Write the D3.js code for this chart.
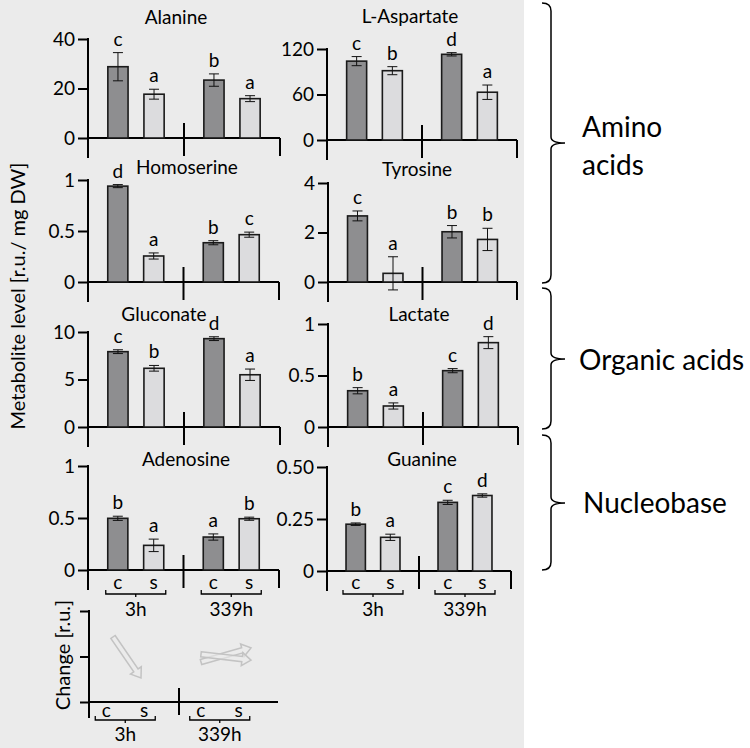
<!DOCTYPE html>
<html>
<head>
<meta charset="utf-8">
<script src="https://cdn.jsdelivr.net/npm/d3@7/dist/d3.min.js"></script>
<style>
  body { margin: 0; background: #fff; }
  svg { display: block; }
  text { font-family: Lato, "Open Sans", sans-serif; fill: #000; }
</style>
</head>
<body>
<div id="chart"></div>
<script>
// ---- data ----
const metabolites = ["Alanine", "L-Aspartate", "Homoserine", "Tyrosine", "Gluconate", "Lactate", "Adenosine", "Guanine"];
const groups = ["3h", "339h"];
const treatments = ["c", "s"];

// order: 3h c, 3h s, 339h c, 339h s
const means = [
  [28.8, 17.7, 23.4, 15.9],
  [104, 91.4, 113, 63],
  [0.94, 0.255, 0.385, 0.464],
  [2.67, 0.35, 2.03, 1.72],
  [7.93, 6.18, 9.3, 5.5],
  [0.352, 0.204, 0.547, 0.819],
  [0.497, 0.237, 0.317, 0.493],
  [0.225, 0.162, 0.33, 0.363]
];
const errors = [
  [5.7, 2.0, 2.5, 1.2],
  [6, 5.3, 2.2, 9.5],
  [0.015, 0.03, 0.02, 0.025],
  [0.2, 0.67, 0.25, 0.45],
  [0.2, 0.3, 0.2, 0.6],
  [0.03, 0.03, 0.02, 0.058],
  [0.02, 0.06, 0.03, 0.015],
  [0.006, 0.015, 0.01, 0.008]
];
const letters = [
  ["c", "a", "b", "a"],
  ["c", "b", "d", "a"],
  ["d", "a", "b", "c"],
  ["c", "a", "b", "b"],
  ["c", "b", "d", "a"],
  ["b", "a", "c", "d"],
  ["b", "a", "a", "b"],
  ["b", "a", "c", "d"]
];
const yMax = [40, 120, 1, 4, 10, 1, 1, 0.5];
const yTicks = [
  [0, 20, 40], [0, 60, 120], [0, 0.5, 1], [0, 2, 4],
  [0, 5, 10], [0, 0.5, 1], [0, 0.5, 1], [0, 0.25, 0.5]
];
const yTickLabels = [
  ["0", "20", "40"], ["0", "60", "120"], ["0", "0.5", "1"], ["0", "2", "4"],
  ["0", "5", "10"], ["0", "0.5", "1"], ["0", "0.5", "1"], ["0", "0.25", "0.50"]
];

// change panel (qualitative arrows)
const changeGroup = ["3h", "339h", "339h"];
const changeFrom = [1.43, 0.88, 1.05];
const changeTo = [0.53, 1.19, 0.92];
const changeTicks = [0, 1, 2];

const classNames = [["Amino", "acids"], ["Organic acids"], ["Nucleobase"]];

// ---- layout ----
const panels = [
  { ax: 88, end: 280, base: 138, top: 39, tx: 176, ty: 24 },
  { ax: 327, end: 517, base: 140, top: 49, tx: 410, ty: 23 },
  { ax: 88, end: 279, base: 282, top: 180, tx: 187, ty: 174 },
  { ax: 328, end: 517, base: 282, top: 183, tx: 417, ty: 176 },
  { ax: 88, end: 280, base: 427, top: 332, tx: 164, ty: 321 },
  { ax: 328, end: 518, base: 427, top: 324, tx: 419, ty: 321 },
  { ax: 88, end: 279, base: 570, top: 466, tx: 186, ty: 466 },
  { ax: 327, end: 511, base: 571, top: 467, tx: 422, ty: 466 }
];
const bracePos = [[3, 143, 283], [288, 359, 429], [435, 503, 570]];
const braceText = [[582, 137], [579, 370], [583, 513]];

const W = 750, H = 748;
const darkFill = "#8e8e90", lightFill = "#dcdcde";
const fs = "19px";

const svg = d3.select("#chart").append("svg")
  .attr("width", W)
  .attr("height", H);

svg.append("rect")
  .attr("width", 524)
  .attr("height", H)
  .attr("fill", "#ebebeb");

function groupLabels(g, x0, x1, yLetters, yBracket, yGroup) {
  groups.forEach(grp => {
    treatments.forEach(t => {
      g.append("text")
        .attr("x", x0(grp) + x1(t) + x1.bandwidth() / 2)
        .attr("y", yLetters)
        .attr("text-anchor", "middle")
        .style("font-size", fs)
        .text(t);
    });
    const mid = x0(grp) + x0.bandwidth() / 2;
    g.append("path")
      .attr("d", `M${mid - 30},${yBracket - 4}L${mid - 30},${yBracket}L${mid + 30},${yBracket}L${mid + 30},${yBracket - 4}M${mid},${yBracket}L${mid},${yBracket + 3}`)
      .attr("fill", "none")
      .attr("stroke", "#000")
      .attr("stroke-width", 1.3);
    g.append("text")
      .attr("x", mid)
      .attr("y", yGroup)
      .attr("text-anchor", "middle")
      .style("font-size", fs)
      .text(grp);
  });
}

metabolites.forEach((name, i) => {
  const p = panels[i];
  const g = svg.append("g");

  const x0 = d3.scaleBand().domain(groups).range([p.ax, p.end]);
  const x1 = d3.scaleBand().domain(treatments).range([0, x0.bandwidth()])
    .paddingInner(0.44).paddingOuter(0.55);
  const y = d3.scaleLinear().domain([0, yMax[i]]).range([p.base, p.top]);

  const bars = [];
  groups.forEach((grp, gi) => treatments.forEach((t, ti) => {
    const k = gi * 2 + ti;
    bars.push({ grp, t, v: means[i][k], e: errors[i][k], l: letters[i][k] });
  }));

  // y axis ticks + labels
  const yAxis = d3.axisLeft(y)
    .tickValues(yTicks[i])
    .tickFormat((d, k) => yTickLabels[i][k])
    .tickSize(10)
    .tickSizeOuter(0)
    .tickPadding(3);
  const ya = g.append("g")
    .attr("transform", `translate(${p.ax},0)`)
    .call(yAxis);
  ya.select(".domain").remove();
  ya.selectAll("line").attr("stroke", "#000").attr("stroke-width", 2);
  ya.selectAll("text").style("font-size", fs).style("font-family", "Lato, 'Open Sans', sans-serif");

  // axis lines
  g.append("line").attr("x1", p.ax).attr("x2", p.ax).attr("y1", p.top - 1).attr("y2", p.base + 20)
    .attr("stroke", "#000").attr("stroke-width", 2);
  g.append("line").attr("x1", p.ax).attr("x2", p.end).attr("y1", p.base).attr("y2", p.base)
    .attr("stroke", "#000").attr("stroke-width", 2);
  g.append("line").attr("x1", p.end).attr("x2", p.end).attr("y1", p.base).attr("y2", p.base + 18)
    .attr("stroke", "#000").attr("stroke-width", 2);
  const sep = x0("339h");
  g.append("line").attr("x1", sep).attr("x2", sep).attr("y1", p.base - 15).attr("y2", p.base + 18)
    .attr("stroke", "#000").attr("stroke-width", 2);

  // bars
  g.selectAll(".bar")
    .data(bars)
    .enter()
    .append("rect")
    .attr("class", "bar")
    .attr("x", d => x0(d.grp) + x1(d.t))
    .attr("y", d => y(d.v))
    .attr("width", x1.bandwidth())
    .attr("height", d => p.base - y(d.v))
    .attr("fill", d => d.t === "c" ? darkFill : lightFill)
    .attr("stroke", "#1a1a1a")
    .attr("stroke-width", 1.6);

  // error bars
  bars.forEach(d => {
    const cx = x0(d.grp) + x1(d.t) + x1.bandwidth() / 2;
    const y1 = y(d.v + d.e), y2 = y(d.v - d.e);
    g.append("path")
      .attr("d", `M${cx},${y1}L${cx},${y2}M${cx - 5},${y1}L${cx + 5},${y1}M${cx - 5},${y2}L${cx + 5},${y2}`)
      .attr("fill", "none")
      .attr("stroke", "#111")
      .attr("stroke-width", 1);
    g.append("text")
      .attr("x", cx)
      .attr("y", y1 - 7)
      .attr("text-anchor", "middle")
      .style("font-size", fs)
      .text(d.l);
  });

  // title
  g.append("text")
    .attr("x", p.tx)
    .attr("y", p.ty)
    .attr("text-anchor", "middle")
    .style("font-size", fs)
    .text(name);

  if (i >= 6) groupLabels(g, x0, x1, 589, 594, 616);
});

// y label
svg.append("text")
  .attr("transform", "translate(25,296) rotate(-90)")
  .attr("text-anchor", "middle")
  .style("font-size", "20px")
  .text("Metabolite level [r.u./ mg DW]");

// ---- change panel ----
const cp = { ax: 89, end: 278, base: 702, top: 611 };
const cg = svg.append("g");
const cy = d3.scaleLinear().domain([0, 2]).range([cp.base, cp.top]);
const cx0 = d3.scaleBand().domain(groups).range([cp.ax - 11, cp.end - 11]);
const cx1 = d3.scaleBand().domain(treatments).range([0, cx0.bandwidth()])
  .paddingInner(0.4).paddingOuter(0.45);

const cAxis = d3.axisLeft(cy).tickValues(changeTicks).tickFormat("").tickSize(9).tickSizeOuter(0);
const ca = cg.append("g").attr("transform", `translate(${cp.ax},0)`).call(cAxis);
ca.select(".domain").remove();
ca.selectAll("line").attr("stroke", "#000").attr("stroke-width", 2);
cg.append("line").attr("x1", cp.ax).attr("x2", cp.ax).attr("y1", cp.top - 1).attr("y2", cp.base + 16)
  .attr("stroke", "#000").attr("stroke-width", 2);
cg.append("line").attr("x1", cp.ax).attr("x2", cp.end).attr("y1", cp.base).attr("y2", cp.base)
  .attr("stroke", "#000").attr("stroke-width", 2);
cg.append("line").attr("x1", 179).attr("x2", 179).attr("y1", cp.base - 14).attr("y2", cp.base + 13)
  .attr("stroke", "#000").attr("stroke-width", 2);

// arrow x spans within each group
const arrowX = { "3h": d3.scaleLinear().domain([0, 1]).range([113, 141]),
                 "339h": d3.scaleLinear().domain([0, 1]).range([201, 251]) };

changeGroup.forEach((grp, k) => {
  const xa = arrowX[grp](0), ya = cy(changeFrom[k]);
  const xb = arrowX[grp](1), yb = cy(changeTo[k]);
  const len = Math.hypot(xb - xa, yb - ya);
  const ang = Math.atan2(yb - ya, xb - xa) * 180 / Math.PI;
  const h = 2.6, hw = 6.5, hl = 9;
  cg.append("path")
    .attr("d", `M0,${-h}L${len - hl},${-h}L${len - hl},${-hw}L${len},0L${len - hl},${hw}L${len - hl},${h}L0,${h}Z`)
    .attr("transform", `translate(${xa},${ya}) rotate(${ang})`)
    .attr("fill", "#ebebeb")
    .attr("fill-opacity", 0.6)
    .attr("stroke", "#c3c3c3")
    .attr("stroke-width", 1.5);
});

cg.append("text")
  .attr("transform", "translate(70,655) rotate(-90)")
  .attr("text-anchor", "middle")
  .style("font-size", "20px")
  .text("Change [r.u.]");

groupLabels(cg, cx0, cx1, 717, 720, 741);

// ---- braces ----
classNames.forEach((lines, k) => {
  const [t, m, b] = bracePos[k];
  const x = 551;
  svg.append("path")
    .attr("d", `M${x - 9},${t}Q${x},${t} ${x},${t + 8}L${x},${m - 6}Q${x},${m} ${x + 14},${m}Q${x},${m} ${x},${m + 6}L${x},${b - 8}Q${x},${b} ${x - 9},${b}`)
    .attr("fill", "none")
    .attr("stroke", "#000")
    .attr("stroke-width", 1.5);
  lines.forEach((ln, j) => {
    svg.append("text")
      .attr("x", braceText[k][0])
      .attr("y", braceText[k][1] + j * 38)
      .style("font-size", "28px")
      .text(ln);
  });
});
</script>
</body>
</html>
